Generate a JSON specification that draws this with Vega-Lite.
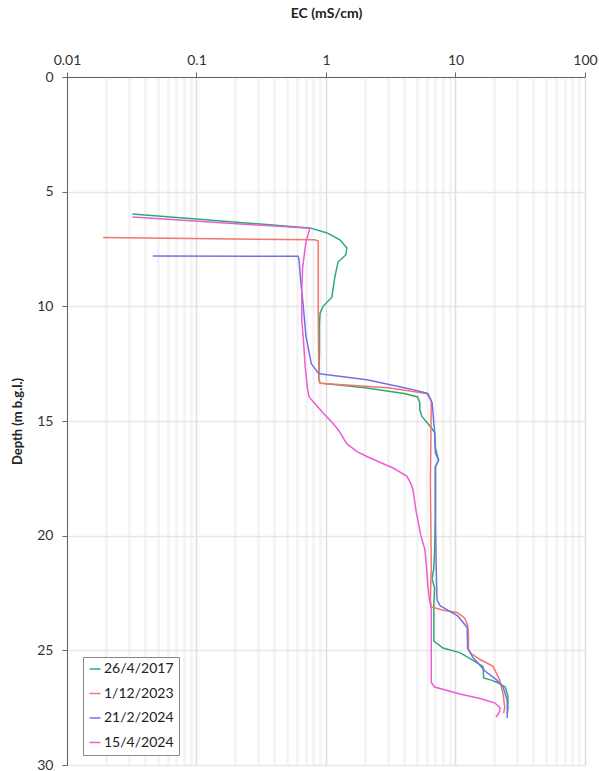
{
  "$schema": "https://vega.github.io/schema/vega-lite/v6.json",
  "width": 518,
  "height": 688,
  "autosize": {"type": "none"},
  "padding": {"left": 67, "top": 77, "right": 14, "bottom": 6},
  "background": "white",
  "config": {
    "font": "Lato",
    "view": {"stroke": null},
    "axis": {"labelFont": "Lato", "titleFont": "Lato"}
  },
  "datasets": {
    "g": [
      {"ec": 0.032, "depth": 5.97}, {"ec": 0.75, "depth": 6.58}, {"ec": 1.02, "depth": 6.8}, {"ec": 1.28, "depth": 7.1},
      {"ec": 1.45, "depth": 7.46}, {"ec": 1.42, "depth": 7.76}, {"ec": 1.24, "depth": 8.07}, {"ec": 1.17, "depth": 8.72},
      {"ec": 1.11, "depth": 9.6}, {"ec": 0.95, "depth": 10.0}, {"ec": 0.9, "depth": 10.3}, {"ec": 0.89, "depth": 10.8},
      {"ec": 0.89, "depth": 12.0}, {"ec": 0.88, "depth": 13.2}, {"ec": 0.9, "depth": 13.35}, {"ec": 2.0, "depth": 13.55},
      {"ec": 4.0, "depth": 13.8}, {"ec": 5.1, "depth": 13.95}, {"ec": 5.3, "depth": 14.2}, {"ec": 5.3, "depth": 14.5},
      {"ec": 5.5, "depth": 14.8}, {"ec": 6.3, "depth": 15.2}, {"ec": 6.9, "depth": 15.5}, {"ec": 7.0, "depth": 16.2},
      {"ec": 7.4, "depth": 16.7}, {"ec": 7.0, "depth": 17.0}, {"ec": 7.0, "depth": 19.0}, {"ec": 6.9, "depth": 20.6},
      {"ec": 6.8, "depth": 21.4}, {"ec": 6.6, "depth": 21.9}, {"ec": 6.9, "depth": 22.3}, {"ec": 6.8, "depth": 23.0},
      {"ec": 6.8, "depth": 24.6}, {"ec": 8.0, "depth": 24.9}, {"ec": 10.8, "depth": 25.1}, {"ec": 12.4, "depth": 25.3},
      {"ec": 16.3, "depth": 25.7}, {"ec": 16.5, "depth": 26.2}, {"ec": 18.9, "depth": 26.3}, {"ec": 21.0, "depth": 26.4},
      {"ec": 24.2, "depth": 26.6}, {"ec": 25.4, "depth": 27.0}, {"ec": 25.4, "depth": 27.6}, {"ec": 25.0, "depth": 27.75}
    ],
    "r": [
      {"ec": 0.019, "depth": 7.0}, {"ec": 0.82, "depth": 7.1}, {"ec": 0.87, "depth": 7.15}, {"ec": 0.87, "depth": 10.0},
      {"ec": 0.88, "depth": 13.2}, {"ec": 0.9, "depth": 13.35}, {"ec": 3.0, "depth": 13.55}, {"ec": 6.0, "depth": 13.8},
      {"ec": 6.5, "depth": 14.1}, {"ec": 6.4, "depth": 17.7}, {"ec": 6.5, "depth": 21.4}, {"ec": 6.4, "depth": 22.8},
      {"ec": 6.5, "depth": 23.1}, {"ec": 8.0, "depth": 23.25}, {"ec": 10.3, "depth": 23.35}, {"ec": 11.8, "depth": 23.6},
      {"ec": 12.4, "depth": 23.9}, {"ec": 12.6, "depth": 24.3}, {"ec": 12.6, "depth": 25.0}, {"ec": 13.3, "depth": 25.15},
      {"ec": 15.5, "depth": 25.4}, {"ec": 19.5, "depth": 25.7}, {"ec": 22.0, "depth": 26.3}, {"ec": 23.3, "depth": 26.9},
      {"ec": 24.0, "depth": 27.5}, {"ec": 23.5, "depth": 27.75}
    ],
    "b": [
      {"ec": 0.046, "depth": 7.8}, {"ec": 0.61, "depth": 7.82}, {"ec": 0.62, "depth": 8.0}, {"ec": 0.64, "depth": 9.0},
      {"ec": 0.66, "depth": 9.7}, {"ec": 0.7, "depth": 11.3}, {"ec": 0.77, "depth": 12.5}, {"ec": 0.87, "depth": 12.9},
      {"ec": 0.92, "depth": 12.95}, {"ec": 2.07, "depth": 13.2}, {"ec": 4.45, "depth": 13.6}, {"ec": 6.1, "depth": 13.8},
      {"ec": 6.6, "depth": 14.2}, {"ec": 6.9, "depth": 15.5}, {"ec": 7.0, "depth": 16.4}, {"ec": 7.4, "depth": 16.7},
      {"ec": 7.0, "depth": 17.0}, {"ec": 7.0, "depth": 19.2}, {"ec": 7.1, "depth": 21.4}, {"ec": 7.2, "depth": 22.8},
      {"ec": 7.6, "depth": 23.05}, {"ec": 8.7, "depth": 23.25}, {"ec": 10.4, "depth": 23.5}, {"ec": 12.3, "depth": 24.0},
      {"ec": 12.4, "depth": 24.9}, {"ec": 13.6, "depth": 25.3}, {"ec": 16.9, "depth": 25.9}, {"ec": 20.9, "depth": 26.3},
      {"ec": 23.3, "depth": 26.6}, {"ec": 25.1, "depth": 27.2}, {"ec": 25.1, "depth": 27.95}
    ],
    "m": [
      {"ec": 0.032, "depth": 6.1}, {"ec": 0.75, "depth": 6.6}, {"ec": 0.7, "depth": 7.2}, {"ec": 0.66, "depth": 8.3},
      {"ec": 0.65, "depth": 9.3}, {"ec": 0.65, "depth": 10.6}, {"ec": 0.67, "depth": 11.5}, {"ec": 0.69, "depth": 12.6},
      {"ec": 0.72, "depth": 13.6}, {"ec": 0.74, "depth": 13.95}, {"ec": 0.78, "depth": 14.1}, {"ec": 0.95, "depth": 14.65},
      {"ec": 1.13, "depth": 15.1}, {"ec": 1.25, "depth": 15.4}, {"ec": 1.45, "depth": 16.0}, {"ec": 1.75, "depth": 16.35},
      {"ec": 2.07, "depth": 16.55}, {"ec": 2.6, "depth": 16.8}, {"ec": 3.3, "depth": 17.05}, {"ec": 4.2, "depth": 17.4},
      {"ec": 4.5, "depth": 17.7}, {"ec": 4.7, "depth": 18.0}, {"ec": 4.95, "depth": 18.9}, {"ec": 5.4, "depth": 20.0},
      {"ec": 5.8, "depth": 20.6}, {"ec": 6.0, "depth": 21.5}, {"ec": 6.1, "depth": 22.1}, {"ec": 6.3, "depth": 22.8},
      {"ec": 6.5, "depth": 23.2}, {"ec": 6.5, "depth": 24.0}, {"ec": 6.5, "depth": 26.4}, {"ec": 6.9, "depth": 26.6},
      {"ec": 10.8, "depth": 26.9}, {"ec": 15.5, "depth": 27.1}, {"ec": 20.2, "depth": 27.3}, {"ec": 22.0, "depth": 27.5},
      {"ec": 22.0, "depth": 27.65}, {"ec": 21.0, "depth": 27.85}, {"ec": 20.5, "depth": 27.9}
    ]
  },
  "layer": [
    {
      "data": {"name": "g"},
      "transform": [{"window": [{"op": "row_number", "as": "o"}]}, {"calculate": "'26/4/2017'", "as": "date"}],
      "mark": {"type": "line", "strokeWidth": 1.5, "clip": true}
    },
    {
      "data": {"name": "r"},
      "transform": [{"window": [{"op": "row_number", "as": "o"}]}, {"calculate": "'1/12/2023'", "as": "date"}],
      "mark": {"type": "line", "strokeWidth": 1.5, "clip": true}
    },
    {
      "data": {"name": "b"},
      "transform": [{"window": [{"op": "row_number", "as": "o"}]}, {"calculate": "'21/2/2024'", "as": "date"}],
      "mark": {"type": "line", "strokeWidth": 1.5, "clip": true}
    },
    {
      "data": {"name": "m"},
      "transform": [{"window": [{"op": "row_number", "as": "o"}]}, {"calculate": "'15/4/2024'", "as": "date"}],
      "mark": {"type": "line", "strokeWidth": 1.5, "clip": true}
    }
  ],
  "encoding": {
    "x": {
      "field": "ec", "type": "quantitative",
      "scale": {"type": "log", "domain": [0.01, 100], "nice": false},
      "axis": {
        "orient": "top",
        "title": "EC (mS/cm)",
        "titleFontSize": 14, "titleFontWeight": "bold", "titleColor": "#222", "titlePadding": 33,
        "values": [0.01, 0.02, 0.03, 0.04, 0.05, 0.06, 0.07, 0.08, 0.09, 0.1, 0.2, 0.3, 0.4, 0.5, 0.6, 0.7, 0.8, 0.9, 1, 2, 3, 4, 5, 6, 7, 8, 9, 10, 20, 30, 40, 50, 60, 70, 80, 90, 100],
        "labelExpr": "indexof([0.01,0.1,1,10,100], datum.value) >= 0 ? format(datum.value, '~g') : ''",
        "labelFontSize": 14, "labelColor": "#333", "labelPadding": 5, "labelFlush": false, "labelOverlap": false,
        "tickSize": 5, "tickColor": "#666",
        "tickOpacity": {"condition": {"test": "indexof([0.01,0.1,1,10,100], datum.value) >= 0", "value": 1}, "value": 0},
        "domainColor": "#666",
        "grid": true,
        "gridColor": {"condition": {"test": "indexof([0.01,0.1,1,10,100], datum.value) >= 0", "value": "#dddddd"}, "value": "#f3f3f3"},
        "gridWidth": {"condition": {"test": "indexof([0.01,0.1,1,10,100], datum.value) >= 0", "value": 1.5}, "value": 2.5}
      }
    },
    "y": {
      "field": "depth", "type": "quantitative",
      "scale": {"domain": [0, 30], "reverse": true, "nice": false},
      "axis": {
        "title": "Depth (m b.g.l.)",
        "titleFontSize": 13, "titleFontWeight": "bold", "titleColor": "#222", "titlePadding": 12,
        "values": [0, 5, 10, 15, 20, 25, 30],
        "labelFontSize": 14, "labelColor": "#333", "labelPadding": 9,
        "tickSize": 5, "tickColor": "#666", "domainColor": "#666",
        "grid": true, "gridColor": "#e6e6e6", "gridWidth": 1.5
      }
    },
    "order": {"field": "o", "type": "quantitative"},
    "color": {
      "field": "date", "type": "nominal",
      "scale": {"domain": ["26/4/2017", "1/12/2023", "21/2/2024", "15/4/2024"], "range": ["#2fa878", "#f2766a", "#7471e6", "#ee5bd4"]},
      "legend": {
        "title": null, "orient": "none", "legendX": 16, "legendY": 580,
        "symbolType": "stroke", "symbolSize": 121, "symbolStrokeWidth": 1.5,
        "labelFontSize": 14, "labelColor": "#222", "labelFont": "Lato", "labelOffset": 2,
        "rowPadding": 10.5, "padding": 5, "strokeColor": "#888", "fillColor": "white"
      }
    }
  }
}
